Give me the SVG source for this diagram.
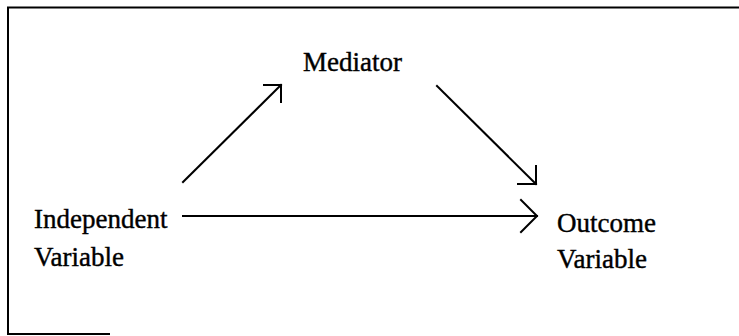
<svg xmlns="http://www.w3.org/2000/svg" width="739" height="336" viewBox="0 0 739 336">
  <style>
    .frame { stroke: #000; stroke-width: 2; fill: none; }
    .edge { stroke: #000; stroke-width: 2; fill: none; stroke-linecap: square; }
    .label { font-family: "Liberation Serif", "Times New Roman", serif; font-size: 27px; fill: #000; stroke: #000; stroke-width: 0.4; }
  </style>
  <rect width="739" height="336" fill="#fff"/>

  <!-- partial frame around the figure -->
  <g id="frame">
    <path class="frame" d="M739,7.5 H8 V334 H110"/>
  </g>

  <g id="connectors">
    <!-- independent -> mediator -->
    <path class="edge" d="M183,182 L281,85"/>
    <path class="edge" d="M264,85 H281 V102"/>
    <!-- mediator -> outcome -->
    <path class="edge" d="M437,86 L536,184"/>
    <path class="edge" d="M518,184 H536 V166"/>
    <!-- independent -> outcome -->
    <path class="edge" d="M183,216 H537"/>
    <path class="edge" d="M521,200 L537,216 L521,232"/>
  </g>

  <g id="mediator">
    <text class="label" x="303" y="71">Mediator</text>
  </g>
  <g id="independent">
    <text class="label" x="34" y="228">Independent</text>
    <text class="label" x="34" y="266">Variable</text>
  </g>
  <g id="outcome">
    <text class="label" x="557" y="232">Outcome</text>
    <text class="label" x="557" y="268">Variable</text>
  </g>
</svg>
